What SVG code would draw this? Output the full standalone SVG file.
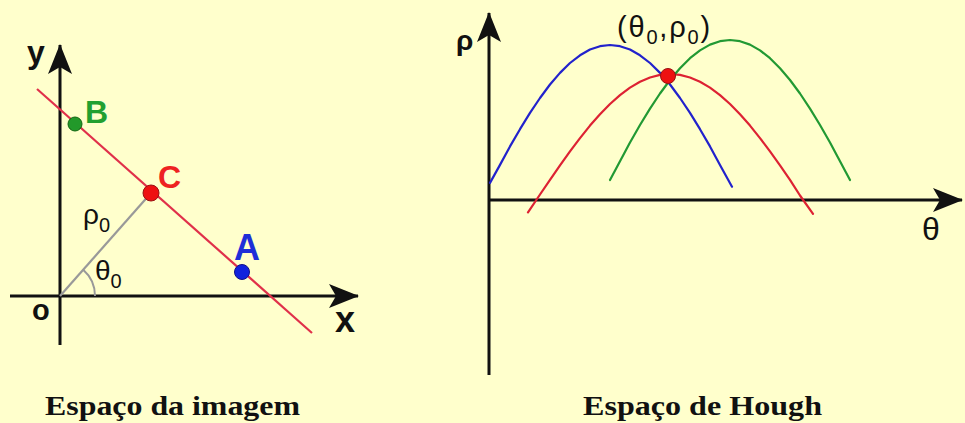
<svg xmlns="http://www.w3.org/2000/svg" width="965" height="423" viewBox="0 0 965 423">
<defs>
<marker id="arr" markerUnits="userSpaceOnUse" viewBox="0 0 30 24" refX="29" refY="12" markerWidth="30" markerHeight="24" orient="auto">
<path d="M0,0 L30,12 L0,24 L7,12 Z" fill="#111"/>
</marker>
</defs>
<style>
.axis{stroke:#111;stroke-width:3;fill:none}
.sans{font-family:"Liberation Sans",Arial,sans-serif}
.lbl{font-family:"Liberation Sans",Arial,sans-serif;font-weight:bold}
.cap{font-family:"Liberation Serif","Times New Roman",serif;font-weight:bold;font-size:28px;fill:#111}
.curve{fill:none;stroke-width:2.2;stroke-linejoin:round;stroke-linecap:round}
</style>
<rect x="0" y="0" width="965" height="423" fill="#FFFFCC"/>

<g id="connectors">
<line class="axis" x1="60" y1="345" x2="60" y2="45" marker-end="url(#arr)"/>
<line class="axis" x1="10" y1="296" x2="358" y2="296" marker-end="url(#arr)"/>
<line x1="37" y1="89" x2="312" y2="333" stroke="#E0304A" stroke-width="2.2"/>
<line x1="60" y1="296" x2="151" y2="193" stroke="#999" stroke-width="2.2"/>
<path d="M95,296 A35,35 0 0 0 83.2,269.8" fill="none" stroke="#999" stroke-width="2"/>
<line class="axis" x1="489" y1="375" x2="489" y2="13" marker-end="url(#arr)"/>
<line class="axis" x1="489" y1="200" x2="962" y2="200" marker-end="url(#arr)"/>
</g>

<g id="curve-blue">
<polyline class="curve" stroke="#2222CC" points="490,182.9 500,164.9 510,146.4 520,129.2 530,112.9 540,98 550,84.5 560,72.9 570,63 580,55.3 590,49.5 600,46.2 610,45 620,46.2 630,49.5 640,55.3 650,63 660,72.9 670,84.5 680,98 690,112.9 700,129.2 710,146.4 720,164.9 732,186.7"/>
</g>
<g id="curve-red">
<polyline class="curve" stroke="#DD2233" points="528,212.4 540,194.5 550,179.8 560,165.3 570,151.4 580,138.1 590,125.6 600,114.3 610,104 620,95.2 630,87.6 640,81.8 650,77.5 660,74.9 670,74 680,74.9 690,77.5 700,81.8 710,87.6 720,95.2 730,104 740,114.3 750,125.6 760,138.1 770,151.4 780,165.3 790,179.8 800,195.5 813,213.8"/>
</g>
<g id="curve-green">
<polyline class="curve" stroke="#229933" points="610,180 620,161.2 630,142.5 640,125 650,108.6 660,93.5 670,80 680,68.3 690,58.2 700,50.4 710,44.6 720,41.2 730,40 740,41.2 750,44.6 760,50.4 770,58.2 780,68.3 790,80 800,93.5 810,108.6 820,125 830,142.5 840,161.2 850,180"/>
</g>

<g id="point-B"><circle cx="75" cy="124" r="7" fill="#22992A" stroke="#116611" stroke-width="1"/><text class="lbl" x="85" y="123" font-size="32" fill="#22A030">B</text></g>
<g id="point-C"><circle cx="151" cy="193" r="8" fill="#EE1111" stroke="#991111" stroke-width="1"/><text class="lbl" x="158" y="188" font-size="32" fill="#EE2222">C</text></g>
<g id="point-A"><circle cx="242" cy="272" r="7.5" fill="#1122DD" stroke="#111188" stroke-width="1"/><text class="lbl" x="234" y="260" font-size="36" fill="#1E2ED8">A</text></g>
<g id="point-C2"><circle cx="668" cy="76" r="7.5" fill="#EE1111" stroke="#991111" stroke-width="1"/></g>

<g id="labels-left">
<text class="lbl" x="27" y="63" font-size="32" fill="#111">y</text>
<text class="lbl" x="32" y="320" font-size="29" fill="#111">o</text>
<text class="lbl" x="335" y="332" font-size="36" fill="#111">x</text>
<text class="sans" x="83" y="224" font-size="28" fill="#111">ρ<tspan font-size="20" dy="8">0</tspan></text>
<text class="sans" x="95" y="280" font-size="28" fill="#111">θ<tspan font-size="20" dy="8">0</tspan></text>
</g>

<g id="labels-right">
<text class="lbl" x="456" y="50" font-size="28" fill="#111">ρ</text>
<text class="sans" x="922" y="240" font-size="32" fill="#111">θ</text>
<text class="sans" x="617" y="37" font-size="29" fill="#111" letter-spacing="1.8">(θ<tspan font-size="20" dy="7">0</tspan><tspan dy="-7">,ρ</tspan><tspan font-size="20" dy="7">0</tspan><tspan dy="-7">)</tspan></text>
</g>

<g id="captions">
<text class="cap" x="45" y="415" textLength="255" lengthAdjust="spacingAndGlyphs">Espaço da imagem</text>
<text class="cap" x="583" y="415" textLength="239" lengthAdjust="spacingAndGlyphs">Espaço de Hough</text>
</g>
</svg>
